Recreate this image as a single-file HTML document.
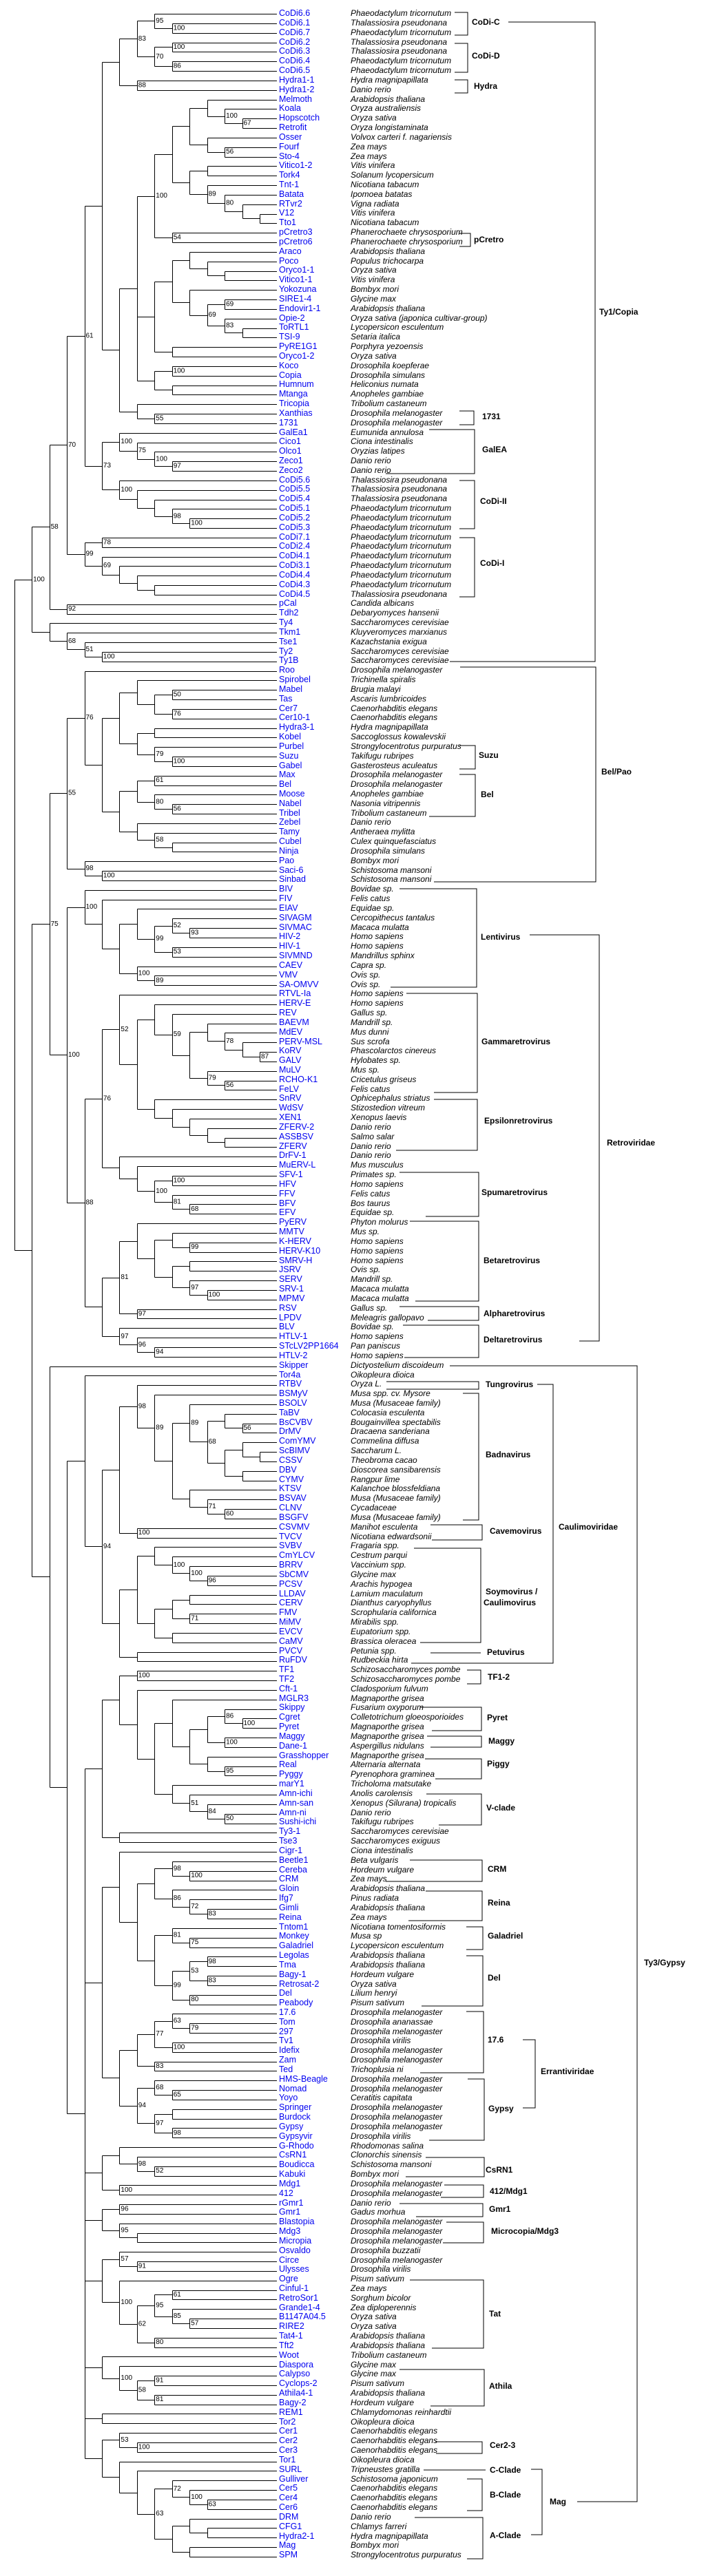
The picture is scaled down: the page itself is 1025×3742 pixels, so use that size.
<!DOCTYPE html>
<html><head><meta charset="utf-8">
<style>
html,body{margin:0;padding:0;background:#fff;}
#wrap{position:relative;width:1025px;height:3742px;overflow:hidden;background:#fff;}
svg{position:absolute;left:0;top:0;}
.col{position:absolute;top:13.08px;line-height:13.835px;white-space:nowrap;}
.nm{left:405px;font:12.5px "Liberation Sans",sans-serif;color:#0000f0;line-height:13.835px;}
.sp{left:509px;font:italic 12px "Liberation Sans",sans-serif;color:#000;line-height:13.835px;}
.lab{font:bold 12px "Liberation Sans",sans-serif;fill:#000;}
</style></head><body><div id="wrap">
<svg id="tree" width="1025" height="3742" viewBox="0 0 1025 3742">
<g id="ann" stroke="#000" stroke-width="1" fill="none" shape-rendering="crispEdges">
<path d="M660 18H679V51H660M660 63H679V105H660M660 116H679V135H660M667 339H683V358H667M667 597H688V617H667M623 624H689V688H560M667 698H689V768H667M667 781H689V867H667M667 1083H690V1117H667M667 1125H690V1186H623M580 1291H692V1434H567M590 1443H693V1587H630M630 1597H693V1671H575M580 1703H695V1767H618M595 1774H695V1890H603M580 1898H695V1918H621M585 1925H695V1972H587M561 2007H695V2018H561M672 2024H695V2208H672M625 2215H700V2237H627M601 2249H698V2386H610M625 2401H698M678 2426H698V2446H678M610 2480H699V2514H627M620 2522H699V2538H625M617 2555H699V2584H632M619 2606H699V2651H637M595 2702H700V2733H560M618 2747H700V2790H593M677 2799H701V2832H677M677 2841H701V2914H612M677 2922H702V3011H610M679 3020H703V3109H623M618 3134H703V3162H589M645 3174H702V3192H640M580 3201H701V3220H604M648 3228H702V3258H643M595 3312H702V3411H627M580 3442H703V3495H625M632 3547H700V3564H633M615 3588H705M678 3601H700V3647H678M602 3657H701V3717H678"/>
<path d="M738 32H864V961H653M668 969H865V1281H630M769 1358H870V1948H841M780 2011H803V2416H597M759 2963H777V3062H759M771 3587H787V3682H771M653 1984H925V3634H838"/>
</g>
<g dominant-baseline="central">
<text class="lab" x="685" y="32">CoDi-C</text>
<text class="lab" x="685" y="81">CoDi-D</text>
<text class="lab" x="688" y="125">Hydra</text>
<text class="lab" x="688" y="348">pCretro</text>
<text class="lab" x="700" y="605">1731</text>
<text class="lab" x="700" y="653">GalEA</text>
<text class="lab" x="697" y="728">CoDi-II</text>
<text class="lab" x="697" y="818">CoDi-I</text>
<text class="lab" x="695" y="1097">Suzu</text>
<text class="lab" x="698" y="1154">Bel</text>
<text class="lab" x="698" y="1361">Lentivirus</text>
<text class="lab" x="699" y="1513">Gammaretrovirus</text>
<text class="lab" x="703" y="1628">Epsilonretrovirus</text>
<text class="lab" x="699" y="1732">Spumaretrovirus</text>
<text class="lab" x="702" y="1831">Betaretrovirus</text>
<text class="lab" x="702" y="1908">Alpharetrovirus</text>
<text class="lab" x="702" y="1946">Deltaretrovirus</text>
<text class="lab" x="705" y="2011">Tungrovirus</text>
<text class="lab" x="705" y="2113">Badnavirus</text>
<text class="lab" x="711" y="2224">Cavemovirus</text>
<text class="lab" x="705" y="2312">Soymovirus /</text>
<text class="lab" x="702" y="2328">Caulimovirus</text>
<text class="lab" x="707" y="2400">Petuvirus</text>
<text class="lab" x="708" y="2436">TF1-2</text>
<text class="lab" x="707" y="2495">Pyret</text>
<text class="lab" x="709" y="2529">Maggy</text>
<text class="lab" x="707" y="2562">Piggy</text>
<text class="lab" x="706" y="2626">V-clade</text>
<text class="lab" x="708" y="2715">CRM</text>
<text class="lab" x="708" y="2764">Reina</text>
<text class="lab" x="708" y="2812">Galadriel</text>
<text class="lab" x="708" y="2873">Del</text>
<text class="lab" x="708" y="2963">17.6</text>
<text class="lab" x="709" y="3063">Gypsy</text>
<text class="lab" x="705" y="3152">CsRN1</text>
<text class="lab" x="711" y="3183">412/Mdg1</text>
<text class="lab" x="710" y="3209">Gmr1</text>
<text class="lab" x="713" y="3241">Microcopia/Mdg3</text>
<text class="lab" x="710" y="3361">Tat</text>
<text class="lab" x="710" y="3466">Athila</text>
<text class="lab" x="711" y="3552">Cer2-3</text>
<text class="lab" x="711" y="3588">C-Clade</text>
<text class="lab" x="711" y="3624">B-Clade</text>
<text class="lab" x="711" y="3683">A-Clade</text>
<text class="lab" x="798" y="3634">Mag</text>
<text class="lab" x="870" y="453">Ty1/Copia</text>
<text class="lab" x="873" y="1121">Bel/Pao</text>
<text class="lab" x="881" y="1660">Retroviridae</text>
<text class="lab" x="811" y="2218">Caulimoviridae</text>
<text class="lab" x="785" y="3009">Errantiviridae</text>
<text class="lab" x="935" y="2851">Ty3/Gypsy</text>
</g>
<g id="lines" stroke="#000" stroke-width="1" fill="none" shape-rendering="crispEdges"></g>
<g id="boot" font-family="Liberation Sans, sans-serif" font-size="10" fill="#000" dominant-baseline="central"></g>
</svg>
<div class="col nm">CoDi6.6<br>CoDi6.1<br>CoDi6.7<br>CoDi6.2<br>CoDi6.3<br>CoDi6.4<br>CoDi6.5<br>Hydra1-1<br>Hydra1-2<br>Melmoth<br>Koala<br>Hopscotch<br>Retrofit<br>Osser<br>Fourf<br>Sto-4<br>Vitico1-2<br>Tork4<br>Tnt-1<br>Batata<br>RTvr2<br>V12<br>Tto1<br>pCretro3<br>pCretro6<br>Araco<br>Poco<br>Oryco1-1<br>Vitico1-1<br>Yokozuna<br>SIRE1-4<br>Endovir1-1<br>Opie-2<br>ToRTL1<br>TSI-9<br>PyRE1G1<br>Oryco1-2<br>Koco<br>Copia<br>Humnum<br>Mtanga<br>Tricopia<br>Xanthias<br>1731<br>GalEa1<br>Cico1<br>Olco1<br>Zeco1<br>Zeco2<br>CoDi5.6<br>CoDi5.5<br>CoDi5.4<br>CoDi5.1<br>CoDi5.2<br>CoDi5.3<br>CoDi7.1<br>CoDi2.4<br>CoDi4.1<br>CoDi3.1<br>CoDi4.4<br>CoDi4.3<br>CoDi4.5<br>pCal<br>Tdh2<br>Ty4<br>Tkm1<br>Tse1<br>Ty2<br>Ty1B<br>Roo<br>Spirobel<br>Mabel<br>Tas<br>Cer7<br>Cer10-1<br>Hydra3-1<br>Kobel<br>Purbel<br>Suzu<br>Gabel<br>Max<br>Bel<br>Moose<br>Nabel<br>Tribel<br>Zebel<br>Tamy<br>Cubel<br>Ninja<br>Pao<br>Saci-6<br>Sinbad<br>BIV<br>FIV<br>EIAV<br>SIVAGM<br>SIVMAC<br>HIV-2<br>HIV-1<br>SIVMND<br>CAEV<br>VMV<br>SA-OMVV<br>RTVL-Ia<br>HERV-E<br>REV<br>BAEVM<br>MdEV<br>PERV-MSL<br>KoRV<br>GALV<br>MuLV<br>RCHO-K1<br>FeLV<br>SnRV<br>WdSV<br>XEN1<br>ZFERV-2<br>ASSBSV<br>ZFERV<br>DrFV-1<br>MuERV-L<br>SFV-1<br>HFV<br>FFV<br>BFV<br>EFV<br>PyERV<br>MMTV<br>K-HERV<br>HERV-K10<br>SMRV-H<br>JSRV<br>SERV<br>SRV-1<br>MPMV<br>RSV<br>LPDV<br>BLV<br>HTLV-1<br>STcLV2PP1664<br>HTLV-2<br>Skipper<br>Tor4a<br>RTBV<br>BSMyV<br>BSOLV<br>TaBV<br>BsCVBV<br>DrMV<br>ComYMV<br>ScBIMV<br>CSSV<br>DBV<br>CYMV<br>KTSV<br>BSVAV<br>CLNV<br>BSGFV<br>CSVMV<br>TVCV<br>SVBV<br>CmYLCV<br>BRRV<br>SbCMV<br>PCSV<br>LLDAV<br>CERV<br>FMV<br>MiMV<br>EVCV<br>CaMV<br>PVCV<br>RuFDV<br>TF1<br>TF2<br>Cft-1<br>MGLR3<br>Skippy<br>Cgret<br>Pyret<br>Maggy<br>Dane-1<br>Grasshopper<br>Real<br>Pyggy<br>marY1<br>Amn-ichi<br>Amn-san<br>Amn-ni<br>Sushi-ichi<br>Ty3-1<br>Tse3<br>Cigr-1<br>Beetle1<br>Cereba<br>CRM<br>Gloin<br>Ifg7<br>Gimli<br>Reina<br>Tntom1<br>Monkey<br>Galadriel<br>Legolas<br>Tma<br>Bagy-1<br>Retrosat-2<br>Del<br>Peabody<br>17.6<br>Tom<br>297<br>Tv1<br>Idefix<br>Zam<br>Ted<br>HMS-Beagle<br>Nomad<br>Yoyo<br>Springer<br>Burdock<br>Gypsy<br>Gypsyvir<br>G-Rhodo<br>CsRN1<br>Boudicca<br>Kabuki<br>Mdg1<br>412<br>rGmr1<br>Gmr1<br>Blastopia<br>Mdg3<br>Micropia<br>Osvaldo<br>Circe<br>Ulysses<br>Ogre<br>Cinful-1<br>RetroSor1<br>Grande1-4<br>B1147A04.5<br>RIRE2<br>Tat4-1<br>Tft2<br>Woot<br>Diaspora<br>Calypso<br>Cyclops-2<br>Athila4-1<br>Bagy-2<br>REM1<br>Tor2<br>Cer1<br>Cer2<br>Cer3<br>Tor1<br>SURL<br>Gulliver<br>Cer5<br>Cer4<br>Cer6<br>DRM<br>CFG1<br>Hydra2-1<br>Mag<br>SPM</div>
<div class="col sp">Phaeodactylum tricornutum<br>Thalassiosira pseudonana<br>Phaeodactylum tricornutum<br>Thalassiosira pseudonana<br>Thalassiosira pseudonana<br>Phaeodactylum tricornutum<br>Phaeodactylum tricornutum<br>Hydra magnipapillata<br>Danio rerio<br>Arabidopsis thaliana<br>Oryza australiensis<br>Oryza sativa<br>Oryza longistaminata<br>Volvox carteri f. nagariensis<br>Zea mays<br>Zea mays<br>Vitis vinifera<br>Solanum lycopersicum<br>Nicotiana tabacum<br>Ipomoea batatas<br>Vigna radiata<br>Vitis vinifera<br>Nicotiana tabacum<br>Phanerochaete chrysosporium<br>Phanerochaete chrysosporium<br>Arabidopsis thaliana<br>Populus trichocarpa<br>Oryza sativa<br>Vitis vinifera<br>Bombyx mori<br>Glycine max<br>Arabidopsis thaliana<br>Oryza sativa (japonica cultivar-group)<br>Lycopersicon esculentum<br>Setaria italica<br>Porphyra yezoensis<br>Oryza sativa<br>Drosophila koepferae<br>Drosophila simulans<br>Heliconius numata<br>Anopheles gambiae<br>Tribolium castaneum<br>Drosophila melanogaster<br>Drosophila melanogaster<br>Eumunida annulosa<br>Ciona intestinalis<br>Oryzias latipes<br>Danio rerio<br>Danio rerio<br>Thalassiosira pseudonana<br>Thalassiosira pseudonana<br>Thalassiosira pseudonana<br>Phaeodactylum tricornutum<br>Phaeodactylum tricornutum<br>Phaeodactylum tricornutum<br>Phaeodactylum tricornutum<br>Phaeodactylum tricornutum<br>Phaeodactylum tricornutum<br>Phaeodactylum tricornutum<br>Phaeodactylum tricornutum<br>Phaeodactylum tricornutum<br>Thalassiosira pseudonana<br>Candida albicans<br>Debaryomyces hansenii<br>Saccharomyces cerevisiae<br>Kluyveromyces marxianus<br>Kazachstania exigua<br>Saccharomyces cerevisiae<br>Saccharomyces cerevisiae<br>Drosophila melanogaster<br>Trichinella spiralis<br>Brugia malayi<br>Ascaris lumbricoides<br>Caenorhabditis elegans<br>Caenorhabditis elegans<br>Hydra magnipapillata<br>Saccoglossus kowalevskii<br>Strongylocentrotus purpuratus<br>Takifugu rubripes<br>Gasterosteus aculeatus<br>Drosophila melanogaster<br>Drosophila melanogaster<br>Anopheles gambiae<br>Nasonia vitripennis<br>Tribolium castaneum<br>Danio rerio<br>Antheraea mylitta<br>Culex quinquefasciatus<br>Drosophila simulans<br>Bombyx mori<br>Schistosoma mansoni<br>Schistosoma mansoni<br>Bovidae sp.<br>Felis catus<br>Equidae sp.<br>Cercopithecus tantalus<br>Macaca mulatta<br>Homo sapiens<br>Homo sapiens<br>Mandrillus sphinx<br>Capra sp.<br>Ovis sp.<br>Ovis sp.<br>Homo sapiens<br>Homo sapiens<br>Gallus sp.<br>Mandrill sp.<br>Mus dunni<br>Sus scrofa<br>Phascolarctos cinereus<br>Hylobates sp.<br>Mus sp.<br>Cricetulus griseus<br>Felis catus<br>Ophicephalus striatus<br>Stizostedion vitreum<br>Xenopus laevis<br>Danio rerio<br>Salmo salar<br>Danio rerio<br>Danio rerio<br>Mus musculus<br>Primates sp.<br>Homo sapiens<br>Felis catus<br>Bos taurus<br>Equidae sp.<br>Phyton molurus<br>Mus sp.<br>Homo sapiens<br>Homo sapiens<br>Homo sapiens<br>Ovis sp.<br>Mandrill sp.<br>Macaca mulatta<br>Macaca mulatta<br>Gallus sp.<br>Meleagris gallopavo<br>Bovidae sp.<br>Homo sapiens<br>Pan paniscus<br>Homo sapiens<br>Dictyostelium discoideum<br>Oikopleura dioica<br>Oryza L.<br>Musa spp. cv. Mysore<br>Musa (Musaceae family)<br>Colocasia esculenta<br>Bougainvillea spectabilis<br>Dracaena sanderiana<br>Commelina diffusa<br>Saccharum L.<br>Theobroma cacao<br>Dioscorea sansibarensis<br>Rangpur lime<br>Kalanchoe blossfeldiana<br>Musa (Musaceae family)<br>Cycadaceae<br>Musa (Musaceae family)<br>Manihot esculenta<br>Nicotiana edwardsonii<br>Fragaria spp.<br>Cestrum parqui<br>Vaccinium spp.<br>Glycine max<br>Arachis hypogea<br>Lamium maculatum<br>Dianthus caryophyllus<br>Scrophularia californica<br>Mirabilis spp.<br>Eupatorium spp.<br>Brassica oleracea<br>Petunia spp.<br>Rudbeckia hirta<br>Schizosaccharomyces pombe<br>Schizosaccharomyces pombe<br>Cladosporium fulvum<br>Magnaporthe grisea<br>Fusarium oxyporum<br>Colletotrichum gloeosporioides<br>Magnaporthe grisea<br>Magnaporthe grisea<br>Aspergillus nidulans<br>Magnaporthe grisea<br>Alternaria alternata<br>Pyrenophora graminea<br>Tricholoma matsutake<br>Anolis carolensis<br>Xenopus (Silurana) tropicalis<br>Danio rerio<br>Takifugu rubripes<br>Saccharomyces cerevisiae<br>Saccharomyces exiguus<br>Ciona intestinalis<br>Beta vulgaris<br>Hordeum vulgare<br>Zea mays<br>Arabidopsis thaliana<br>Pinus radiata<br>Arabidopsis thaliana<br>Zea mays<br>Nicotiana tomentosiformis<br>Musa sp<br>Lycopersicon esculentum<br>Arabidopsis thaliana<br>Arabidopsis thaliana<br>Hordeum vulgare<br>Oryza sativa<br>Lilium henryi<br>Pisum sativum<br>Drosophila melanogaster<br>Drosophila ananassae<br>Drosophila melanogaster<br>Drosophila virilis<br>Drosophila melanogaster<br>Drosophila melanogaster<br>Trichoplusia ni<br>Drosophila melanogaster<br>Drosophila melanogaster<br>Ceratitis capitata<br>Drosophila melanogaster<br>Drosophila melanogaster<br>Drosophila melanogaster<br>Drosophila virilis<br>Rhodomonas salina<br>Clonorchis sinensis<br>Schistosoma mansoni<br>Bombyx mori<br>Drosophila melanogaster<br>Drosophila melanogaster<br>Danio rerio<br>Gadus morhua<br>Drosophila melanogaster<br>Drosophila melanogaster<br>Drosophila melanogaster<br>Drosophila buzzatii<br>Drosophila melanogaster<br>Drosophila virilis<br>Pisum sativum<br>Zea mays<br>Sorghum bicolor<br>Zea diploperennis<br>Oryza sativa<br>Oryza sativa<br>Arabidopsis thaliana<br>Arabidopsis thaliana<br>Tribolium castaneum<br>Glycine max<br>Glycine max<br>Pisum sativum<br>Arabidopsis thaliana<br>Hordeum vulgare<br>Chlamydomonas reinhardtii<br>Oikopleura dioica<br>Caenorhabditis elegans<br>Caenorhabditis elegans<br>Caenorhabditis elegans<br>Oikopleura dioica<br>Tripneustes gratilla<br>Schistosoma japonicum<br>Caenorhabditis elegans<br>Caenorhabditis elegans<br>Caenorhabditis elegans<br>Danio rerio<br>Chlamys farreri<br>Hydra magnipapillata<br>Bombyx mori<br>Strongylocentrotus purpuratus</div>
</div>
<script>
(function(){
var A="((((((((CoDi6.6,(CoDi6.1,CoDi6.7)100)95,((CoDi6.2,CoDi6.3)100,(CoDi6.4,CoDi6.5)86)70)83,(Hydra1-1,Hydra1-2)88),((((((Melmoth,(Koala,(Hopscotch,Retrofit)67)100),(Osser,(Fourf,Sto-4)56)),((Vitico1-2,Tork4),(Tnt-1,(Batata,(RTvr2,(V12,Tto1)))80)89)),(pCretro3,pCretro6)54)100,(((Araco,(Poco,(Oryco1-1,Vitico1-1))),(Yokozuna,((SIRE1-4,Endovir1-1)69,(Opie-2,(ToRTL1,TSI-9))83)69)),(PyRE1G1,Oryco1-2)),((Koco,Copia)100,(Humnum,Mtanga))),(Tricopia,(Xanthias,1731)55))),((GalEa1,(Cico1,(Olco1,(Zeco1,Zeco2)97)100)75)100,(CoDi5.6,(CoDi5.5,(CoDi5.4,(CoDi5.1,(CoDi5.2,CoDi5.3)100)98)))100)73)61,((CoDi7.1,CoDi2.4)78,(CoDi4.1,(CoDi3.1,(CoDi4.4,(CoDi4.3,CoDi4.5))))69)99)70,(pCal,Tdh2)92)58,(Ty4,(Tkm1,(Tse1,(Ty2,Ty1B)100)51)68))100";
var BP="((Roo,(((Spirobel,((Mabel,Tas)50,(Cer7,Cer10-1)76)),((Hydra3-1,Kobel),(Purbel,(Suzu,Gabel)100)79)),(((Max,Bel)61,(Moose,(Nabel,Tribel)56)80),(Zebel,(Tamy,(Cubel,Ninja))58))))76,(Pao,(Saci-6,Sinbad)100)98)55";
var RE="((BIV,(FIV,((EIAV,((SIVAGM,(SIVMAC,HIV-2)93)52,(HIV-1,SIVMND)53)99),(CAEV,(VMV,SA-OMVV)89)100)))100,(((RTVL-Ia,((HERV-E,(REV,((BAEVM,(MdEV,(PERV-MSL,(KoRV,GALV)87))78),(MuLV,(RCHO-K1,FeLV)56)79))59),(SnRV,(WdSV,(XEN1,(ZFERV-2,(ASSBSV,ZFERV)))))))52,(DrFV-1,(MuERV-L,((SFV-1,HFV)100,(FFV,(BFV,EFV)68)81)100)))76,(((PyERV,((MMTV,(K-HERV,HERV-K10)99),((SMRV-H,JSRV),(SERV,(SRV-1,MPMV)100)97))),(RSV,LPDV)97)81,(BLV,(HTLV-1,(STcLV2PP1664,HTLV-2)94)96)97))88)100";
var Ga="(((TF1,TF2)100,(Cft-1,((MGLR3,(((Skippy,(Cgret,Pyret)100)86,(Maggy,Dane-1)100),(Grasshopper,(Real,Pyggy)95))),(marY1,(Amn-ichi,(Amn-san,(Amn-ni,Sushi-ichi)50)84)51)))),(Ty3-1,Tse3))";
var Gb="((Cigr-1,(((Beetle1,(Cereba,CRM)100)98,(Gloin,(Ifg7,(Gimli,Reina)83)72)86),((Tntom1,(Monkey,Galadriel)75)81,(((Legolas,Tma)98,(Bagy-1,Retrosat-2)83)53,(Del,Peabody)80)99))),((((17.6,(Tom,297)79)63,(Tv1,Idefix)100)77,(Zam,Ted)83),((HMS-Beagle,(Nomad,Yoyo)65)68,((Springer,Burdock),(Gypsy,Gypsyvir)98)97)94))";
var Gc="((G-Rhodo,(CsRN1,(Boudicca,Kabuki)52)98),(Mdg1,412)100)";
var Gd="((rGmr1,Gmr1)96,(Blastopia,(Mdg3,Micropia))95)";
var Ge="((Osvaldo,(Circe,Ulysses)91)57,(Ogre,(((Cinful-1,RetroSor1)61,(Grande1-4,(B1147A04.5,RIRE2)57)85)95,(Tat4-1,Tft2)80)62)100)";
var Gf="(Woot,(Diaspora,((Calypso,Cyclops-2)91,(Athila4-1,Bagy-2)81)58)100)";
var Gg="(REM1,Tor2)";
var Gh="((Cer1,(Cer2,Cer3)100)53,(Tor1,(SURL,((Gulliver,(Cer5,(Cer4,Cer6)63)100)72,((DRM,(CFG1,Hydra2-1)),(Mag,SPM)))63)))";
var GY="("+[Ga,Gb,Gc,Gd,Ge,Gf,Gg,Gh].join(",")+")";
var T3="((Tor4a,(((RTBV,(BSMyV,((BSOLV,((TaBV,(BsCVBV,DrMV)56),((ComYMV,(ScBIMV,CSSV)),(DBV,CYMV)))68)89,(KTSV,(BSVAV,(CLNV,BSGFV)60)71)))89)98,(CSVMV,TVCV)100),(((SVBV,(CmYLCV,(BRRV,(SbCMV,PCSV)96)100)100),(((LLDAV,CERV),(FMV,MiMV)71),(EVCV,CaMV))),(PVCV,RuFDV)))94),"+GY+")";
var B1="(("+BP+","+RE+")75,(Skipper,"+T3+"))";
var s="("+A+","+B1+")";
var i=0;
function node(){var n={c:[]};if(s[i]=="("){i++;n.c.push(node());while(s[i]==","){i++;n.c.push(node());}i++;}var st=i;while(i<s.length&&",()".indexOf(s[i])<0)i++;n.l=s.slice(st,i);return n;}
var root=node();
var k=0,X0=20.7,DX=25.45,Y0=20,DY=13.835,TIP=402;
function lay(n,d){if(!n.c.length){n.x=TIP;n.y=Y0+DY*(k++);return;}n.x=X0+DX*d;for(var j=0;j<n.c.length;j++)lay(n.c[j],d+1);n.y=(n.c[0].y+n.c[n.c.length-1].y)/2;}
lay(root,0);
var p="",NS="http://www.w3.org/2000/svg",bg=document.getElementById("boot");
function r(v){return Math.round(v)+0.5;}
function draw(n){if(!n.c.length)return;var a=n.c[0].y,b=n.c[n.c.length-1].y;p+="M"+r(n.x)+" "+r(a)+"V"+r(b);
for(var j=0;j<n.c.length;j++){var c=n.c[j];p+="M"+r(n.x)+" "+r(c.y)+"H"+(c.c.length?r(c.x):TIP);draw(c);}
if(n.l){var t=document.createElementNS(NS,"text");t.setAttribute("x",(n.x+2).toFixed(1));t.setAttribute("y",(n.y).toFixed(1));t.textContent=n.l;bg.appendChild(t);}}
draw(root);
var pa=document.createElementNS(NS,"path");pa.setAttribute("d",p);document.getElementById("lines").appendChild(pa);
})();
</script>
</body></html>
